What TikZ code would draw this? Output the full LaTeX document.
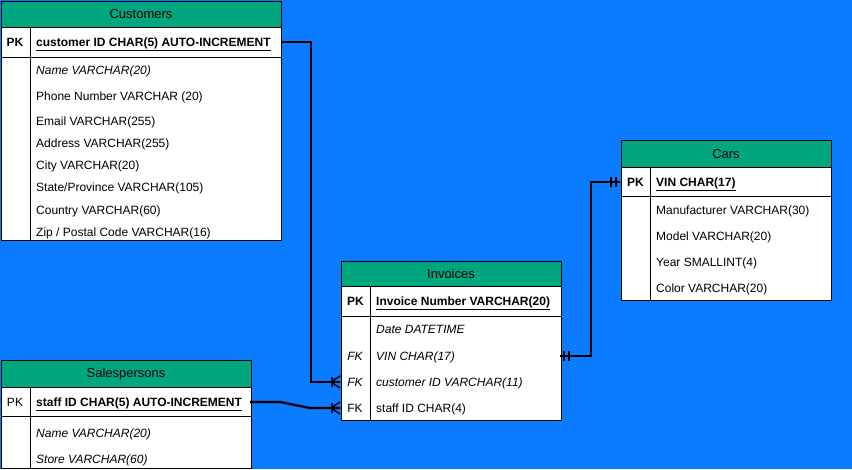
\documentclass[tikz,border=0pt]{standalone}
\usepackage{fontspec}
\setmainfont{Liberation Sans}
\definecolor{bgblue}{HTML}{0B7BFF}
\definecolor{hgreen}{HTML}{00A67E}
\definecolor{halocol}{HTML}{0A3A80}
\begin{document}
\begin{tikzpicture}[x=1pt,y=-1pt,
  hdr/.style={draw=black, fill=hgreen, line width=1pt, anchor=north west, inner sep=0pt, font=\fontsize{13}{15}\selectfont},
  tbox/.style={draw=black, fill=white, line width=1pt, anchor=north west, inner sep=0pt},
  fld/.style={anchor=base west, inner sep=0pt, yshift=-4.3pt, font=\fontsize{12}{14}\selectfont},
  fldb/.style={fld, font=\fontsize{12}{14}\selectfont\bfseries},
  fldi/.style={fld, font=\fontsize{12}{14}\selectfont\itshape},
  keyl/.style={anchor=base, inner sep=0pt, yshift=-4.3pt, font=\fontsize{12}{14}\selectfont},
  keyb/.style={keyl, font=\fontsize{12}{14}\selectfont\bfseries},
  keyi/.style={keyl, font=\fontsize{12}{14}\selectfont\itshape},
  divl/.style={draw=black, line width=1pt},
  conn/.style={line width=1.7pt, draw=black, preaction={draw=halocol, line width=2.7pt}},
  endmark/.style={line width=1.5pt, draw=black}
]
\fill[bgblue] (0,0) rectangle (852,469);
\useasboundingbox (0,0) rectangle (852,469);

% ---------- Customers ----------
\node[tbox, minimum width=280pt, minimum height=30pt] (custpk) at (0.5,27) {};
\node[tbox, minimum width=280pt, minimum height=183pt] (custb) at (0.5,57) {};
\node[hdr, minimum width=280pt, minimum height=26pt] (custh) at (0.5,1) {Customers};
\draw[divl] (30,27) -- (30,240);
\node[keyb] (custk) at (15,42) {PK};
\node[fldb] (custid) at (36,42) {\underline{customer ID CHAR(5) AUTO-INCREMENT}};
\node[fldi] (custf1) at (36,70) {Name VARCHAR(20)};
\node[fld] (custf2) at (36,96) {Phone Number VARCHAR (20)};
\node[fld] (custf3) at (36,121) {Email VARCHAR(255)};
\node[fld] (custf4) at (36,143) {Address VARCHAR(255)};
\node[fld] (custf5) at (36,165) {City VARCHAR(20)};
\node[fld] (custf6) at (36,187) {State/Province VARCHAR(105)};
\node[fld] (custf7) at (36,210) {Country VARCHAR(60)};
\node[fld] (custf8) at (36,232) {Zip / Postal Code VARCHAR(16)};

% ---------- Cars ----------
\node[tbox, minimum width=210pt, minimum height=29pt] (carspk) at (620.5,167) {};
\node[tbox, minimum width=210pt, minimum height=104pt] (carsb) at (620.5,196) {};
\node[hdr, minimum width=210pt, minimum height=27pt] (carsh) at (620.5,140) {Cars};
\draw[divl] (650.5,167) -- (650.5,300);
\node[keyb] (carsk) at (635.5,182) {PK};
\node[fldb] (carsid) at (656,182) {\underline{VIN CHAR(17)}};
\node[fld] (carsf1) at (656,210) {Manufacturer VARCHAR(30)};
\node[fld] (carsf2) at (656,236) {Model VARCHAR(20)};
\node[fld] (carsf3) at (656,262) {Year SMALLINT(4)};
\node[fld] (carsf4) at (656,288) {Color VARCHAR(20)};

% ---------- Invoices ----------
\node[tbox, minimum width=220pt, minimum height=30pt] (invpk) at (340.5,286) {};
\node[tbox, minimum width=220pt, minimum height=104pt] (invb) at (340.5,316) {};
\node[hdr, minimum width=220pt, minimum height=25pt] (invh) at (340.5,261) {Invoices};
\draw[divl] (370.5,286) -- (370.5,420);
\node[keyb] (invk) at (355.5,301) {PK};
\node[fldb] (invid) at (376,301) {\underline{Invoice Number VARCHAR(20)}};
\node[fldi] (invf1) at (376,329) {Date DATETIME};
\node[keyi] (invk2) at (355,356) {FK};
\node[fldi] (invf2) at (376,356) {VIN CHAR(17)};
\node[keyi] (invk3) at (355,382) {FK};
\node[fldi] (invf3) at (376,382) {customer ID VARCHAR(11)};
\node[keyl] (invk4) at (355,408) {FK};
\node[fld] (invf4) at (376,408) {staff ID CHAR(4)};

% ---------- Salespersons ----------
\node[tbox, minimum width=250pt, minimum height=29pt] (salpk) at (0.5,387) {};
\node[tbox, minimum width=250pt, minimum height=52pt] (salb) at (0.5,416) {};
\node[hdr, minimum width=250pt, minimum height=27pt] (salh) at (0.5,360) {Salespersons};
\draw[divl] (30,387) -- (30,468);
\node[keyl] (salk) at (15,402) {PK};
\node[fldb] (salid) at (36,402) {\underline{staff ID CHAR(5) AUTO-INCREMENT}};
\node[fldi] (salf1) at (36,433) {Name VARCHAR(20)};
\node[fldi] (salf2) at (36,459) {Store VARCHAR(60)};

% ---------- connector end points ----------
\coordinate (invC) at (340,382);
\coordinate (invV) at (560,356);
\coordinate (invS) at (340,408);
\coordinate (carsE) at (620,182);
\coordinate (custE) at (281,42);
\coordinate (salE) at (250,402);

% ---------- connectors ----------
\draw[conn] (custE) -- ++(30,0) |- (invC);
\draw[conn] (carsE) -- ++(-29,0) |- (invV);
\draw[conn] (salE) -- ++(30,0) -- ++(30,6) -- (invS);

% crow's feet (one or many)
\draw[endmark] (invC) ++(-9,0) -- ++(9,-6) (invC) ++(-9,0) -- ++(9,6) (invC) ++(-8,-5) -- ++(0,10);
\draw[endmark] (invS) ++(-9,0) -- ++(9,-6) (invS) ++(-9,0) -- ++(9,6) (invS) ++(-8,-5) -- ++(0,10);
% mandatory one
\draw[endmark] (invV) ++(4,-5) -- ++(0,10) (invV) ++(9,-5) -- ++(0,10);
\draw[endmark] (carsE) ++(-4,-5) -- ++(0,10) (carsE) ++(-9,-5) -- ++(0,10);
\end{tikzpicture}
\end{document}
